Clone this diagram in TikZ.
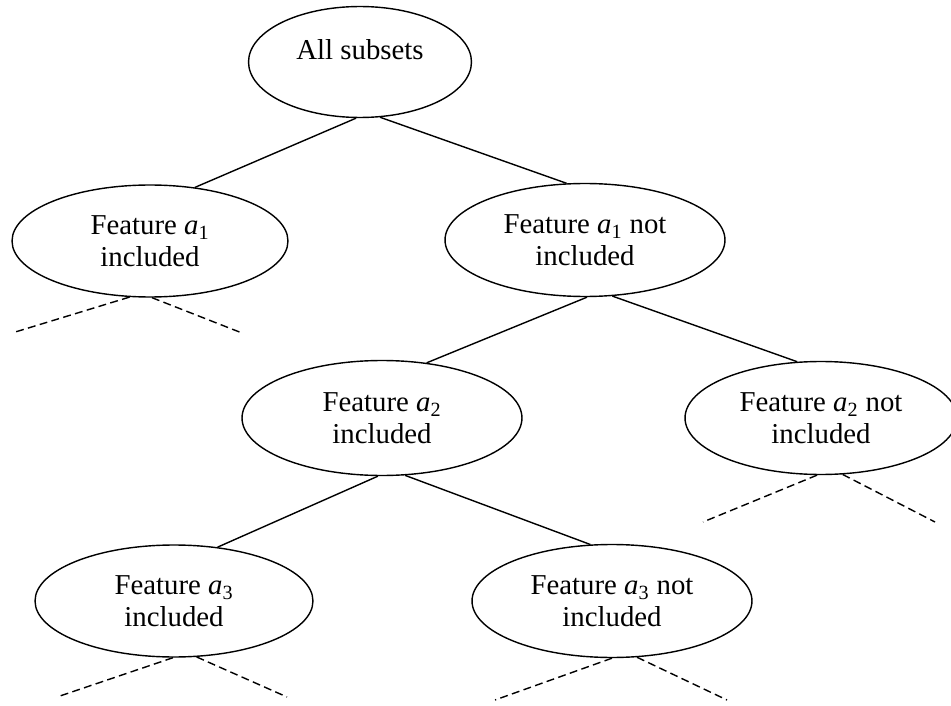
\documentclass[tikz,border=0pt]{standalone}
\usepackage{fontspec}
\setmainfont{Liberation Serif}
\usetikzlibrary{shapes.geometric,positioning}

\begin{document}
\begin{tikzpicture}[x=0.02cm, y=-0.02cm,
    subset/.style={draw, ellipse, line width=0.8pt, minimum width=5.6cm, minimum height=2.26cm, inner sep=0pt, align=center, font=\fontsize{16.4}{18}\selectfont},
    branch/.style={line width=0.8pt},
    open/.style={line width=0.8pt, dash pattern=on 4.5pt off 2.5pt}
]
    \useasboundingbox (0,0) rectangle (951,706);

    % subsets
    \node[subset, minimum width=4.46cm, minimum height=2.22cm] (all) at (360,62) {All subsets\\[-4pt]\mbox{}};
    \node[subset, minimum width=5.52cm, minimum height=2.24cm] (a1in) at (150,241) {Feature \textit{a}\textsubscript{1}\\included};
    \node[subset] (a1out) at (585,240) {Feature \textit{a}\textsubscript{1} not\\included};
    \node[subset, minimum height=2.3cm] (a2in) at (382,418) {Feature \textit{a}\textsubscript{2}\\included};
    \node[subset, minimum width=5.44cm] (a2out) at (821,418) {Feature \textit{a}\textsubscript{2} not\\included};
    \node[subset, minimum width=5.56cm, minimum height=2.24cm] (a3in) at (174,601) {Feature \textit{a}\textsubscript{3}\\included};
    \node[subset] (a3out) at (612,601) {Feature \textit{a}\textsubscript{3} not\\included};

    % branches
    \draw[branch] (all.266) -- (a1in.50);
    \draw[branch] (all.290) -- (a1out.108);
    \draw[branch] (a1out.272) -- (a2in.51);
    \draw[branch] (a1out.296) -- (a2out.113);
    \draw[branch] (a2in.266) -- (a3in.51);
    \draw[branch] (a2in.292) -- (a3out.111);

    % open ends
    \coordinate (a1in-l) at (12,333);
    \coordinate (a1in-r) at (242,333);
    \coordinate (a2out-l) at (703,522);
    \coordinate (a2out-r) at (935,522);
    \coordinate (a3in-l) at (57,697);
    \coordinate (a3in-r) at (287,697);
    \coordinate (a3out-l) at (495,700);
    \coordinate (a3out-r) at (727,700);
    \draw[open] (a1in.250) -- (a1in-l);
    \draw[open] (a1in.272) -- (a1in-r);
    \draw[open] (a2out.266) -- (a2out-l);
    \draw[open] (a2out.291) -- (a2out-r);
    \draw[open] (a3in.269) -- (a3in-l);
    \draw[open] (a3in.292) -- (a3in-r);
    \draw[open] (a3out.270) -- (a3out-l);
    \draw[open] (a3out.294) -- (a3out-r);
\end{tikzpicture}
\end{document}
